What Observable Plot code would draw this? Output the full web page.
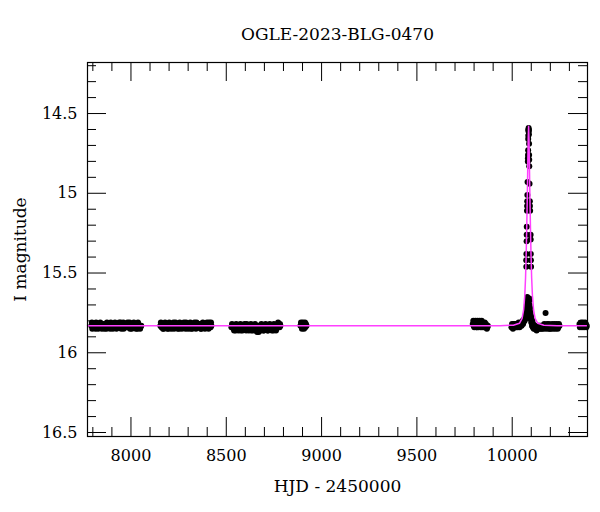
<!DOCTYPE html>
<html>
<head>
<meta charset="utf-8">
<script src="https://cdn.jsdelivr.net/npm/d3@7"></script>
<script src="https://cdn.jsdelivr.net/npm/@observablehq/plot@0.6"></script>
<style>
  html, body { margin: 0; padding: 0; background: white; }
</style>
</head>
<body>
<script>
const title = "OGLE-2023-BLG-0470";
const xLabel = "HJD - 2450000";
const yLabel = "I magnitude";

const xDomain = [7772, 10395];
const yDomain = [14.18, 16.525];

const xMajorTicks = [8000, 8500, 9000, 9500, 10000];
const xMinorTicks = [7800, 7900, 8100, 8200, 8300, 8400, 8600, 8700, 8800, 8900, 9100, 9200, 9300, 9400, 9600, 9700, 9800, 9900, 10100, 10200, 10300];
const yMajorTicks = [14.5, 15, 15.5, 16, 16.5];
const yMinorTicks = [14.2, 14.3, 14.4, 14.6, 14.7, 14.8, 14.9, 15.1, 15.2, 15.3, 15.4, 15.6, 15.7, 15.8, 15.9, 16.1, 16.2, 16.3, 16.4];

// Observations [HJD-2450000, I mag], season by season
const season2017 = [[7792,15.83],[7795,15.81],[7797,15.85],[7803,15.84],[7806,15.82],[7808,15.83],[7814,15.85],[7817,15.81],[7819,15.82],[7825,15.83],[7828,15.85],[7830,15.84],[7836,15.82],[7839,15.81],[7841,15.83],[7847,15.85],[7850,15.82],[7852,15.83],[7858,15.82],[7861,15.85],[7863,15.84],[7869,15.83],[7872,15.85],[7874,15.81],[7880,15.84],[7883,15.82],[7885,15.83],[7891,15.85],[7894,15.81],[7896,15.82],[7902,15.83],[7905,15.85],[7907,15.84],[7913,15.82],[7916,15.81],[7918,15.83],[7924,15.85],[7927,15.83],[7929,15.82],[7935,15.84],[7938,15.81],[7940,15.83],[7946,15.81],[7949,15.85],[7951,15.84],[7957,15.83],[7960,15.81],[7962,15.85],[7968,15.82],[7971,15.84],[7973,15.83],[7979,15.84],[7982,15.81],[7984,15.82],[7990,15.83],[7993,15.81],[7995,15.85],[8001,15.82],[8004,15.85],[8006,15.84],[8012,15.83],[8015,15.81],[8017,15.82],[8023,15.84],[8026,15.85],[8028,15.83],[8034,15.85],[8037,15.81],[8039,15.82],[8045,15.83],[8048,15.85],[8050,15.84],[8054,15.83]];
const season2018 = [[8154,15.83],[8157,15.81],[8160,15.84],[8165,15.82],[8168,15.85],[8171,15.85],[8176,15.83],[8179,15.81],[8182,15.82],[8187,15.84],[8190,15.85],[8193,15.83],[8198,15.85],[8201,15.81],[8204,15.82],[8209,15.84],[8212,15.85],[8215,15.83],[8220,15.82],[8223,15.81],[8226,15.85],[8231,15.83],[8234,15.81],[8237,15.84],[8242,15.82],[8245,15.85],[8248,15.83],[8253,15.85],[8256,15.81],[8259,15.84],[8264,15.82],[8267,15.85],[8270,15.83],[8275,15.84],[8278,15.81],[8281,15.82],[8286,15.85],[8289,15.81],[8292,15.83],[8297,15.82],[8300,15.85],[8303,15.84],[8308,15.83],[8311,15.81],[8314,15.85],[8319,15.82],[8322,15.85],[8325,15.84],[8330,15.83],[8333,15.81],[8336,15.82],[8341,15.85],[8344,15.81],[8347,15.83],[8352,15.84],[8355,15.82],[8358,15.82],[8363,15.83],[8366,15.85],[8369,15.85],[8374,15.82],[8377,15.81],[8380,15.84],[8385,15.83],[8388,15.85],[8391,15.82],[8396,15.84],[8399,15.81],[8402,15.83],[8407,15.85],[8410,15.81],[8413,15.82],[8418,15.84],[8420,15.81],[8422,15.83]];
const season2019 = [[8527,15.84],[8530,15.82],[8532,15.83],[8538,15.85],[8541,15.86],[8543,15.84],[8549,15.86],[8552,15.82],[8554,15.83],[8560,15.85],[8563,15.86],[8565,15.84],[8571,15.83],[8574,15.82],[8576,15.86],[8582,15.84],[8585,15.86],[8587,15.85],[8593,15.83],[8596,15.82],[8598,15.84],[8604,15.86],[8607,15.82],[8609,15.84],[8615,15.83],[8618,15.86],[8620,15.85],[8626,15.84],[8629,15.82],[8631,15.86],[8637,15.83],[8640,15.86],[8642,15.85],[8648,15.84],[8651,15.82],[8653,15.86],[8659,15.83],[8662,15.87],[8664,15.85],[8670,15.87],[8673,15.83],[8675,15.84],[8681,15.86],[8684,15.82],[8686,15.85],[8692,15.83],[8695,15.86],[8697,15.86],[8703,15.84],[8706,15.82],[8708,15.85],[8714,15.83],[8717,15.86],[8719,15.86],[8725,15.84],[8728,15.82],[8730,15.85],[8736,15.83],[8739,15.86],[8741,15.84],[8747,15.86],[8750,15.82],[8752,15.84],[8758,15.83],[8761,15.86],[8763,15.85],[8769,15.84],[8772,15.81],[8774,15.82],[8780,15.84],[8782,15.82],[8784,15.83]];
const season2020 = [[8889,15.83],[8892,15.81],[8894,15.82],[8897,15.85],[8899,15.84],[8902,15.81],[8905,15.83],[8908,15.85],[8910,15.82],[8913,15.81],[8915,15.84],[8918,15.82],[8921,15.83]];
const season2022 = [[9793,15.82],[9796,15.80],[9798,15.83],[9801,15.84],[9804,15.81],[9807,15.80],[9809,15.82],[9812,15.84],[9815,15.84],[9818,15.80],[9820,15.82],[9823,15.84],[9826,15.81],[9829,15.80],[9831,15.83],[9834,15.84],[9837,15.82],[9840,15.80],[9842,15.84],[9845,15.81],[9848,15.82],[9851,15.84],[9853,15.83],[9856,15.81],[9859,15.84],[9862,15.82],[9864,15.83],[9867,15.85],[9870,15.84],[9872,15.83]];
const season2023 = [[9996,15.84],[9999,15.82],[10001,15.83],[10004,15.85],[10006,15.84],[10009,15.82],[10011,15.82],[10014,15.84],[10016,15.83],[10019,15.82],[10021,15.84],[10024,15.83],[10026,15.82],[10029,15.84],[10031,15.83],[10034,15.81],[10036,15.82],[10039,15.84],[10041,15.83],[10044,15.82],[10046,15.81],[10049,15.83],[10051,15.82],[10053,15.81],[10055,15.80],[10057,15.82],[10059,15.81],[10061,15.80],[10063,15.79],[10065,15.80],[10066,15.78],[10068,15.79],[10069,15.77],[10071,15.77],[10072,15.76],[10073,15.75],[10074,15.74],[10075,15.73],[10076,15.72],[10077,15.70],[10078,15.68],[10079,15.65],[10080,15.67],[10081,15.66],
  [10073.5,15.42],[10074,15.46],[10074.5,15.38],[10075.5,15.30],[10076,15.26],[10076.3,15.21],[10077.5,15.11],[10078.3,15.08],[10078.8,15.05],[10079.5,15.01],[10080.5,14.93],[10082,14.80],[10082.5,14.78],[10083,14.76],[10083.5,14.73],[10084,14.66],[10084.5,14.64],[10085,14.61],[10085.5,14.60],[10086,14.59],[10086.5,14.60],[10087,14.61],[10087.5,14.63],[10088.5,14.69],[10088.8,14.76],[10089.2,14.79],[10089.5,14.83],[10091,14.94],[10092.5,15.05],[10093,15.08],[10094,15.11],[10096.5,15.26],[10097,15.29],[10097.5,15.38],[10098,15.42],[10098.8,15.46],
  [10090,15.66],[10091,15.70],[10092,15.67],[10093,15.74],[10094,15.72],[10095,15.77],[10096,15.75],[10097,15.79],[10099,15.77],[10100,15.81],[10102,15.79],[10104,15.83],[10106,15.80],[10108,15.84],[10110,15.82],[10113,15.85],[10115,15.83],[10118,15.85],[10120,15.84],[10123,15.83],[10125,15.85],[10128,15.86],[10130,15.84],[10133,15.85],[10135,15.84],[10138,15.83],[10140,15.85],[10143,15.84],[10145,15.83],[10148,15.85],[10150,15.84],[10153,15.83],[10155,15.85],[10158,15.84],[10160,15.83],[10163,15.85],[10165,15.84],[10168,15.82],[10170,15.83],[10175,15.75],[10177,15.85],[10180,15.84],[10183,15.82],[10185,15.83],[10188,15.84],[10190,15.85],[10193,15.82],[10195,15.84],[10198,15.85],[10200,15.83],[10203,15.85],[10206,15.84],[10209,15.82],[10212,15.83],[10215,15.85],[10218,15.84],[10221,15.82],[10224,15.83],[10227,15.85],[10230,15.84],[10233,15.82],[10236,15.83],[10239,15.85],[10242,15.84],[10245,15.82],[10248,15.83]];
const season2024 = [[10353,15.82],[10355,15.84],[10358,15.83],[10361,15.81],[10363,15.82],[10366,15.84],[10368,15.83],[10371,15.81],[10374,15.82],[10377,15.84],[10380,15.83],[10383,15.81],[10386,15.82],[10389,15.84],[10391,15.83]];

// Model light curve
const modelHJD = [7772, 9900, 9936, 10006, 10038, 10052, 10060, 10066, 10070, 10073, 10076, 10078, 10080, 10082, 10084, 10086, 10088, 10090, 10092, 10094, 10096, 10099, 10102, 10106, 10112, 10120, 10134, 10166, 10236, 10395];
const modelMag = [15.83, 15.83, 15.83, 15.827, 15.815, 15.785, 15.73, 15.64, 15.53, 15.40, 15.23, 15.10, 14.96, 14.80, 14.66, 14.58, 14.66, 14.80, 14.96, 15.10, 15.23, 15.40, 15.53, 15.64, 15.73, 15.785, 15.815, 15.827, 15.83, 15.83];

const obs = [season2017, season2018, season2019, season2020, season2022, season2023, season2024].flat().map(([t, m]) => ({t, m}));
const model = modelHJD.map((t, i) => ({t, m: modelMag[i]}));

const W = 600, H = 512;
const mL = 87, mR = 13, mT = 62, mB = 76;
const frameH = H - mT - mB, frameW = W - mL - mR;
const majorLen = 19, minorLen = 9;

const chart = Plot.plot({
  width: W,
  height: H,
  marginLeft: mL,
  marginRight: mR,
  marginTop: mT,
  marginBottom: mB,
  style: {fontFamily: "DejaVu Serif", fontSize: "16px", background: "white", color: "black"},
  x: {domain: xDomain, axis: null},
  y: {domain: yDomain, reverse: true, axis: null},
  marks: [
    Plot.dot(obs, {x: "t", y: "m", r: 3, fill: "black", stroke: "none"}),
    Plot.line(model, {x: "t", y: "m", stroke: "#ff40ff", strokeWidth: 1.5}),
    // inward ticks on all four sides
    Plot.tickX(xMajorTicks, {x: d => d, insetTop: frameH - majorLen, stroke: "black"}),
    Plot.tickX(xMajorTicks, {x: d => d, insetBottom: frameH - majorLen, stroke: "black"}),
    Plot.tickX(xMinorTicks, {x: d => d, insetTop: frameH - minorLen, stroke: "black"}),
    Plot.tickX(xMinorTicks, {x: d => d, insetBottom: frameH - minorLen, stroke: "black"}),
    Plot.tickY(yMajorTicks, {y: d => d, insetRight: frameW - majorLen, stroke: "black"}),
    Plot.tickY(yMajorTicks, {y: d => d, insetLeft: frameW - majorLen, stroke: "black"}),
    Plot.tickY(yMinorTicks, {y: d => d, insetRight: frameW - minorLen, stroke: "black"}),
    Plot.tickY(yMinorTicks, {y: d => d, insetLeft: frameW - minorLen, stroke: "black"}),
    Plot.frame({stroke: "black", strokeWidth: 1.2}),
    Plot.axisX(xMajorTicks, {anchor: "bottom", tickSize: 0, tickPadding: 13, fontSize: 16, label: null, tickFormat: d => String(d)}),
    Plot.axisY(yMajorTicks, {anchor: "left", tickSize: 0, tickPadding: 10, fontSize: 16, label: null, tickFormat: d => String(d)}),
    Plot.text([xLabel], {frameAnchor: "bottom", text: d => d, dy: 55, lineAnchor: "bottom", textAnchor: "middle", fontSize: 17}),
    Plot.text([yLabel], {frameAnchor: "left", text: d => d, dx: -67, rotate: -90, lineAnchor: "middle", textAnchor: "middle", fontSize: 17}),
    Plot.text([title], {frameAnchor: "top", text: d => d, dy: -28, lineAnchor: "middle", textAnchor: "middle", fontSize: 17})
  ]
});
document.body.appendChild(chart);
</script>
</body>
</html>
